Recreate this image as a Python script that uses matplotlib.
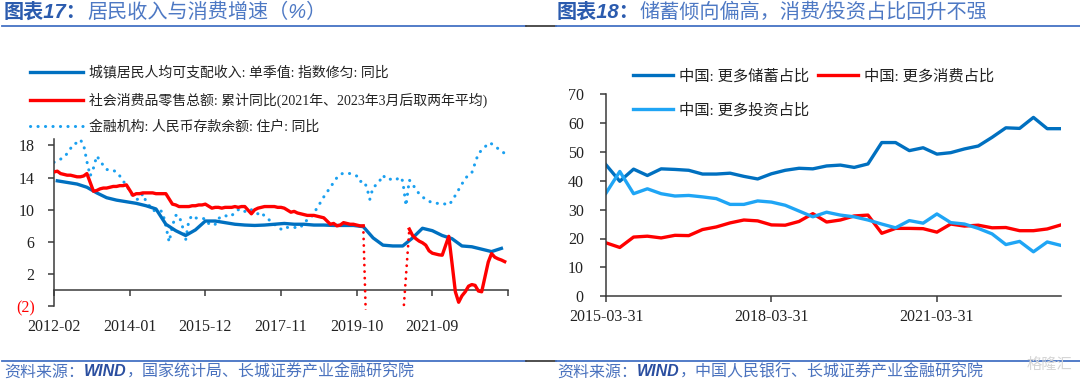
import numpy as np
import pandas as pd
import matplotlib
matplotlib.use("Agg")
import matplotlib.pyplot as plt
from matplotlib.transforms import IdentityTransform

plt.rcParams['font.family'] = ['Liberation Serif', 'Noto Sans CJK SC', 'DejaVu Sans']

# ---------------- Left chart data (monthly axis 2012-02 .. 2023-08) ----------------
left_months = pd.period_range('2012-02', '2023-08', freq='M').strftime('%Y-%m').tolist()
left_tick_labels = ['2012-02', '2014-01', '2015-12', '2017-11', '2019-10', '2021-09', '2023-08']
left_tick_shown = ['2012-02', '2014-01', '2015-12', '2017-11', '2019-10', '2021-09', '']

# Urban disposable income per capita, single quarter, smoothed, yoy (%)
income_months = pd.period_range('2012-03', '2023-06', freq='Q').asfreq('M').strftime('%Y-%m').tolist()
income_vals = [13.6, 13.4, 13.2, 12.8, 12.1, 11.5, 11.2, 11.0, 10.8, 10.5, 10.1, 8.2,
               7.4, 6.8, 7.5, 8.6, 8.6, 8.4, 8.2, 8.1, 8.05, 8.1, 8.2, 8.3,
               8.2, 8.2, 8.1, 8.1, 8.05, 8.05, 8.05, 7.9, 6.5, 5.6, 5.5, 5.5,
               6.5, 7.7, 7.4, 6.8, 6.4, 5.5, 5.4, 5.1, 4.8, 5.2]

# Retail sales, cumulative yoy (%) — monthly 2012-02 .. 2023-07, January not published
retail_months = pd.period_range('2012-02', '2023-07', freq='M').strftime('%Y-%m').tolist()
retail_vals = [14.7, 14.8, 14.5, 14.4, 14.3, 14.3, 14.2, 14.1, 14.1, 14.2, 14.5,
               None, 12.3, 12.4, 12.6, 12.7, 12.7, 12.8, 12.9, 12.9, 13.0, 13.0, 13.1,
               None, 11.8, 12.0, 12.0, 12.1, 12.1, 12.1, 12.1, 12.0, 12.0, 12.0, 12.0,
               None, 10.7, 10.6, 10.4, 10.4, 10.4, 10.4, 10.5, 10.5, 10.6, 10.6, 10.7,
               None, 10.2, 10.3, 10.3, 10.2, 10.3, 10.3, 10.3, 10.4, 10.3, 10.4, 10.4,
               None, 9.5, 10.0, 10.2, 10.3, 10.4, 10.4, 10.4, 10.4, 10.3, 10.3, 10.2,
               None, 9.7, 9.8, 9.6, 9.5, 9.4, 9.3, 9.3, 9.3, 9.2, 9.1, 9.0,
               None, 8.2, 8.3, 8.0, 8.1, 8.4, 8.3, 8.2, 8.2, 8.1, 8.0, 8.0,
               None, -20.5, -19.0, -16.2, -13.5, -11.4, -9.9, -8.6, -7.2, -5.9, -4.8, -3.9,
               None, 7.6, 6.8, 6.4, 6.1, 5.9, 5.6, 4.9, 4.6, 4.5, 4.4, 4.35,
               None, 6.7, 3.3, -0.2, -1.5, -0.7, -0.2, 0.5, 0.7, 0.6, -0.1, -0.2,
               None, 3.5, 4.55, 4.1, 3.9, 3.75, 3.55]
retail_dotted_from, retail_dotted_to = '2019-12', '2021-02'

# Household RMB deposits, yoy (%) — monthly 2012-02 .. 2023-07
deposit_vals = [15.9, 16.1, 16.3, 16.5, 17.0, 17.6, 18.2, 18.3, 18.7, 18.1, 16.0,
                14.2, 15.2, 16.7, 16.1, 15.5, 15.0, 15.0, 14.9, 14.7, 14.2, 13.6, 13.0,
                12.4, 11.6, 11.3, 11.3, 12.0, 11.0, 10.5, 9.9, 9.9, 10.0, 9.7, 8.0,
                6.0, 8.0, 9.3, 9.3, 8.0, 6.2, 8.7, 9.3, 9.0, 8.9, 8.9, 8.9,
                8.3, 8.05, 8.2, 8.9, 9.2, 9.3, 9.1, 9.3, 9.6, 10.0, 10.1, 9.8,
                9.7, 10.0, 9.7, 9.5, 9.7, 9.2, 8.9, 8.5, 8.2, 7.8, 7.6, 7.9,
                7.8, 7.8, 7.8, 7.8, 7.8, 8.5, 8.7, 9.0, 9.5, 10.3, 10.9, 11.6,
                12.2, 12.8, 13.4, 14.0, 14.4, 14.55, 14.55, 14.5, 14.4, 14.2, 13.5, 13.6,
                12.9, 11.3, 12.8, 13.1, 13.6, 14.3, 13.8, 13.8, 13.8, 13.7, 14.1, 13.6,
                10.5, 13.7, 13.2, 12.5, 12.0, 11.6, 11.3, 11.05, 10.9, 10.8, 10.8, 10.8,
                10.7, 10.6, 11.1, 11.8, 12.5, 13.2, 13.9, 14.3, 14.6, 15.8, 17.0, 17.4,
                17.8, 18.3, 18.2, 17.9, 17.6, 17.3, 17.0]

left_labels = ['城镇居民人均可支配收入: 单季值: 指数修匀: 同比',
               '社会消费品零售总额: 累计同比(2021年、2023年3月后取两年平均)',
               '金融机构: 人民币存款余额: 住户: 同比']
left_yticks = [-2, 2, 6, 10, 14, 18]

# ---------------- Right chart data (quarterly 2015Q1 .. 2023Q2) ----------------
right_quarters = pd.period_range('2015Q1', '2023Q2', freq='Q').to_timestamp(how='end').strftime('%Y-%m-%d').tolist()
savings = [45.5, 39.8, 44.0, 41.8, 44.1, 43.9, 43.6, 42.3, 42.3, 42.6, 41.5, 40.6,
           42.4, 43.6, 44.3, 44.1, 45.1, 45.4, 44.6, 45.8, 53.2, 53.2, 50.4, 51.4,
           49.2, 49.7, 51.0, 52.0, 55.0, 58.3, 58.1, 61.9, 58.0, 58.0]
consumption = [18.5, 16.9, 20.5, 20.8, 20.2, 21.1, 21.0, 23.1, 24.0, 25.4, 26.4, 26.1,
               24.7, 24.6, 25.9, 28.6, 25.7, 26.4, 27.8, 28.1, 21.8, 23.5, 23.5, 23.4,
               22.2, 25.0, 24.3, 24.6, 23.7, 23.8, 22.7, 22.7, 23.3, 24.7]
investment = [35.7, 43.2, 35.5, 37.2, 35.5, 34.7, 34.9, 34.4, 33.8, 31.8, 31.8, 33.0,
              32.6, 31.5, 29.5, 27.5, 29.1, 28.1, 27.5, 26.4, 25.0, 23.7, 26.2, 25.3,
              28.5, 25.5, 25.0, 23.5, 21.6, 17.9, 19.0, 15.4, 18.8, 17.6]
right_labels = ['中国: 更多储蓄占比', '中国: 更多消费占比', '中国: 更多投资占比']
right_tick_labels = ['2015-03-31', '2018-03-31', '2021-03-31']

# ---------------- Styles ----------------
C_BLUE = '#0070C0'
C_RED = '#FF0000'
C_SKY = '#1AA0F0'
C_SKY2 = '#1FA5F5'
SPINE = '#3a3a3a'
W, H = 1080, 379
TICKFONT = dict(family='Liberation Serif', size=11.5)

fig = plt.figure(figsize=(W / 100, H / 100), dpi=100)
fig.patch.set_facecolor('white')


def px_ax(l, t, r, b):
    return [l / W, (H - b) / H, (r - l) / W, (b - t) / H]


# ================= Left chart =================
ax1 = fig.add_axes(px_ax(54, 139, 508, 310.3))
pos = {m: i for i, m in enumerate(left_months)}

inc_x = np.array([pos[m] for m in income_months])
l_inc, = ax1.plot(inc_x, income_vals, color=C_BLUE, lw=2.4, solid_joinstyle='round', zorder=3)

ret_x = np.array([pos[m] for m in retail_months])
ret_y = np.array([np.nan if v is None else v for v in retail_vals], dtype=float)
keep = ~np.isnan(ret_y)
rx, ry = ret_x[keep], ret_y[keep]
i0, i1 = pos[retail_dotted_from], pos[retail_dotted_to]
dot_mask = (rx >= i0) & (rx <= i1)
solid_y = ry.copy()
solid_y[(rx > i0) & (rx < i1)] = np.nan
l_ret, = ax1.plot(rx, solid_y, color=C_RED, lw=2.4, solid_joinstyle='round', zorder=4)
ax1.plot(rx[dot_mask], ry[dot_mask], color=C_RED, lw=2.0,
         linestyle=(0, (0.05, 2.3)), dash_capstyle='round', zorder=4)

dep_x = np.array([pos[m] for m in retail_months])
l_dep, = ax1.plot(dep_x, deposit_vals, color=C_SKY, lw=2.2,
                  linestyle=(0, (0.05, 2.4)), dash_capstyle='round', zorder=2)

ax1.set_xlim(0, len(left_months) - 1)
ax1.set_ylim(-2.5, 18.8)
for s in ['top', 'right']:
    ax1.spines[s].set_visible(False)
ax1.spines['bottom'].set_position(('data', 0))
ax1.spines['left'].set_bounds(-2, 18.8)
for s in ['bottom', 'left']:
    ax1.spines[s].set_color(SPINE)
    ax1.spines[s].set_linewidth(1.1)
ax1.set_xticks([pos[m] for m in left_tick_labels])
ax1.set_xticklabels(left_tick_shown, fontdict=TICKFONT, color='#222222')
ax1.tick_params(axis='x', direction='out', length=4, width=1.1, color=SPINE, pad=17)
ax1.set_yticks(left_yticks)
ax1.set_yticklabels(['(2)' if v < 0 else str(v) for v in left_yticks], fontdict=TICKFONT)
for lab, v in zip(ax1.get_yticklabels(), left_yticks):
    lab.set_color(C_RED if v < 0 else '#222222')
ax1.tick_params(axis='y', direction='out', length=4, width=1.1, color=SPINE, pad=10)
ax1.patch.set_alpha(0)

leg1 = ax1.legend([l_inc, l_ret, l_dep], left_labels, loc='upper left',
                  bbox_to_anchor=(30 / W, 1 - 66 / H), bbox_transform=fig.transFigure,
                  frameon=False, fontsize=10, handlelength=3.8, handletextpad=0.45,
                  labelspacing=0.92, borderpad=0, borderaxespad=0)
for t in leg1.get_texts():
    t.set_color('#222222')

# ================= Right chart =================
ax2 = fig.add_axes(px_ax(606, 94, 1061, 296.3))
qx = np.arange(len(right_quarters))
l_sav, = ax2.plot(qx, savings, color=C_BLUE, lw=2.4, solid_joinstyle='round')
l_con, = ax2.plot(qx, consumption, color=C_RED, lw=2.4, solid_joinstyle='round')
l_inv, = ax2.plot(qx, investment, color=C_SKY2, lw=2.4, solid_joinstyle='round')
ax2.set_xlim(0, len(right_quarters) - 1)
ax2.set_ylim(0, 70)
for s in ['top', 'right']:
    ax2.spines[s].set_visible(False)
for s in ['bottom', 'left']:
    ax2.spines[s].set_color(SPINE)
    ax2.spines[s].set_linewidth(1.1)
ax2.set_xticks([right_quarters.index(q) for q in right_tick_labels])
ax2.set_xticklabels(right_tick_labels, fontdict=TICKFONT, color='#222222')
ax2.tick_params(axis='x', direction='out', length=4, width=1.1, color=SPINE, pad=5)
ax2.set_yticks(np.arange(0, 71, 10))
ax2.set_yticklabels([str(v) for v in range(0, 71, 10)], fontdict=TICKFONT, color='#222222')
ax2.tick_params(axis='y', direction='out', length=4, width=1.1, color=SPINE, pad=12)
ax2.patch.set_alpha(0)

leg2 = ax2.legend([l_sav, l_inv, l_con], [right_labels[0], right_labels[2], right_labels[1]],
                  ncol=2, loc='upper left', bbox_to_anchor=(633 / W, 1 - 69 / H),
                  bbox_transform=fig.transFigure, frameon=False, fontsize=11,
                  handlelength=2.6, handletextpad=0.4, columnspacing=0.6,
                  labelspacing=1.3, borderpad=0, borderaxespad=0)
for t in leg2.get_texts():
    t.set_color('#222222')

# ================= Titles, rules, sources =================
renderer = fig.canvas.get_renderer()


def draw_parts(x, y, parts):
    for s, kw in parts:
        t = fig.text(x, H - y, s, transform=IdentityTransform(), va='center', ha='left', **kw)
        x += t.get_window_extent(renderer).width


TFAM = ['Liberation Sans', 'Noto Sans CJK SC']
title_a = dict(family=TFAM, size=14.5, style='italic', weight='bold', color='#2B5BAE')
title_b = dict(family=TFAM, size=14.5, style='italic', color='#4E79C4')
draw_parts(4, 12, [('图表17：', title_a), ('居民收入与消费增速（%）', title_b)])
draw_parts(557, 12, [('图表18：', title_a), ('储蓄倾向偏高，消费/投资占比回升不强', title_b)])

src_a = dict(family=TFAM, size=11.5, style='italic', color='#4A72BE')
src_b = dict(family=TFAM, size=11.5, style='italic', weight='bold', color='#2B4FA0')
draw_parts(4, 372, [('资料来源：', src_a), ('WIND', src_b), ('，国家统计局、长城证券产业金融研究院', src_a)])
draw_parts(557, 372, [('资料来源：', src_a), ('WIND', src_b), ('，中国人民银行、长城证券产业金融研究院', src_a)])

fig.text(1072, H - 364, '格隆汇', transform=IdentityTransform(), ha='right', va='center',
         family=['Noto Sans CJK SC'], size=11, color='#d6d6d6')

# horizontal rules
for yy in (26, 360.5):
    fig.add_artist(plt.Line2D([2 / W, 526 / W], [1 - yy / H] * 2, color='#4472C4', lw=1.3,
                              transform=fig.transFigure))
    fig.add_artist(plt.Line2D([526 / W, 556 / W], [1 - yy / H] * 2, color='#404040', lw=1.3,
                              transform=fig.transFigure))
    fig.add_artist(plt.Line2D([556 / W, 1080 / W], [1 - yy / H] * 2, color='#4472C4', lw=1.3,
                              transform=fig.transFigure))

fig.savefig('out.png', dpi=100, facecolor='white')
